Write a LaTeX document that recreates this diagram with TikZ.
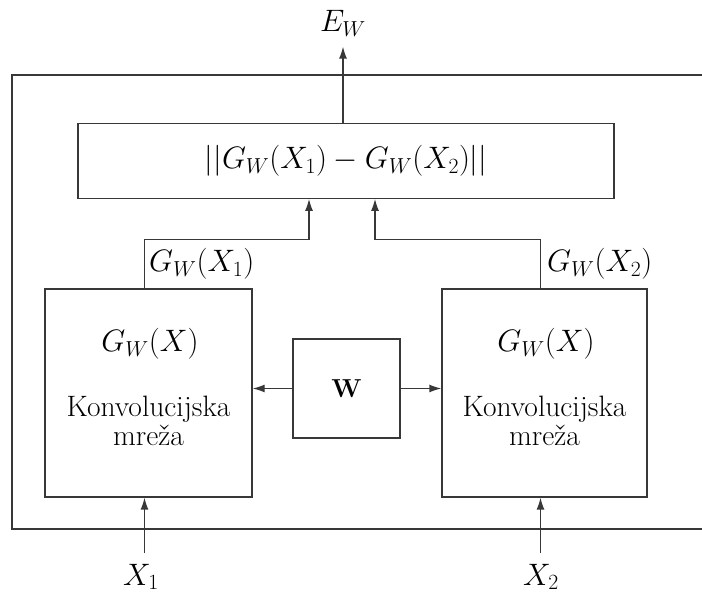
\IfFileExists{fix-cm.sty}{\RequirePackage{fix-cm}}{}
\documentclass[tikz,border=0pt]{standalone}
\IfFileExists{anyfontsize.sty}{\usepackage{anyfontsize}}{}
\usetikzlibrary{arrows.meta}
\begin{document}
\begin{tikzpicture}[x=1pt,y=-1pt,
  ln/.style={line width=1.3pt, draw=black!78},
  arr/.style={ln, -{Latex[length=12pt,width=8pt]}},
  box/.style={ln, rectangle, inner sep=0pt},
  mth/.style={inner sep=0pt, font=\fontsize{31}{36}\selectfont},
  txt/.style={inner sep=0pt, align=center, font=\fontsize{29.5}{29}\selectfont}]
\useasboundingbox (0,0) rectangle (702,593);
% outer frame
\draw[ln] (712,75) -- (12,75) -- (12,529) -- (712,529);
% boxes
\node[box, minimum width=536pt, minimum height=74.5pt, mth] (dist) at (346,161) {$||G_W(X_1) - G_W(X_2)||$};
\node[box, minimum width=207pt, minimum height=208pt] (lnet) at (148.5,393) {};
\node[box, minimum width=205pt, minimum height=208pt] (rnet) at (544.5,393) {};
\node[box, minimum width=107pt, minimum height=99pt, txt, font=\fontsize{26}{28}\selectfont\bfseries] (wbox) at (346.5,388.5) {W};
% texts in boxes
\node[mth] (lg) at (150,344) {$G_W(X)$};
\node[txt] (lt) at (148.5,421) {Konvolucijska\\mreža};
\node[mth] (rg) at (546,344) {$G_W(X)$};
\node[txt] (rt) at (544.5,421) {Konvolucijska\\mreža};
% labels
\node[mth] (ew) at (343,23.5) {$E_W$};
\node[mth, anchor=west] (g1) at (149,264) {$G_W(X_1)$};
\node[mth, anchor=west] (g2) at (547,264) {$G_W(X_2)$};
\node[mth] (x1) at (141,577) {$X_1$};
\node[mth] (x2) at (541,577) {$X_2$};
\coordinate (x1a) at (144.5,553);
\coordinate (x2a) at (540.5,553);
% connectors
\draw[arr] ([xshift=-3pt]dist.north) -- ([xshift=-3pt,yshift=-10pt]dist.north |- ew.south);
\draw[arr] ([xshift=-4pt]lnet.north) -- ++(0,-49) -| ([xshift=-37pt]dist.south);
\draw[arr] ([xshift=-4pt]rnet.north) -- ++(0,-49) -| ([xshift=29pt]dist.south);
\draw[arr] (wbox.west) -- (wbox.west -| lnet.east);
\draw[arr] (wbox.east) -- (wbox.east -| rnet.west);
\draw[arr] (x1a) -- (x1a |- lnet.south);
\draw[arr] (x2a) -- (x2a |- rnet.south);
\end{tikzpicture}
\end{document}
